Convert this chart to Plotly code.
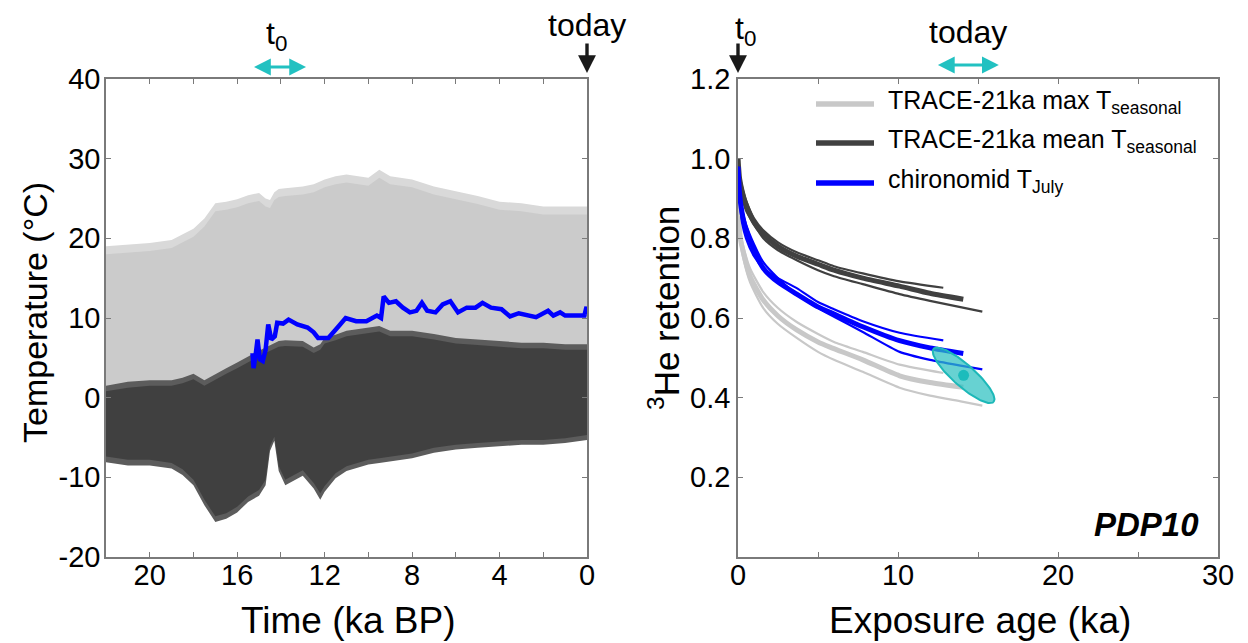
import numpy as np
import plotly.graph_objects as go

# ---------------- Left panel data ----------------
time_ka = [22, 21, 20, 19, 18.5, 18, 17.5, 17, 16.5, 16, 15.5, 15, 14.7, 14.5, 14.3, 14.1, 13.8, 13,
           12.5, 12.2, 12, 11.5, 11, 10, 9.5, 9, 8, 7, 6, 5, 4, 3, 2, 1, 0]
max_T_spike = [19.0, 19.2, 19.4, 19.8, 20.5, 21.2, 22.5, 24.4, 24.6, 24.9, 25.4, 25.7, 25.0, 24.8, 25.8,
               26.2, 26.3, 26.5, 26.8, 27.2, 27.4, 27.8, 28.0, 27.6, 28.6, 27.8, 27.4, 26.5, 25.9, 25.3,
               24.6, 24.4, 24.0, 24.0, 24.0]
max_T_top = [18.0, 18.2, 18.4, 18.8, 19.5, 20.2, 21.5, 23.4, 23.6, 23.9, 24.4, 24.7, 24.0, 23.8, 24.8,
             25.2, 25.3, 25.5, 25.8, 26.2, 26.4, 26.8, 27.0, 26.6, 27.6, 26.8, 26.4, 25.5, 24.9, 24.3,
             23.6, 23.4, 23.0, 23.0, 23.0]
mean_T_spike_top = [1.5, 2.0, 2.2, 2.2, 2.5, 3.0, 2.2, 3.0, 3.7, 4.4, 5.2, 5.9, 6.3, 6.6, 6.9, 7.1, 7.2,
                    7.1, 6.3, 6.7, 7.5, 7.9, 8.4, 8.8, 9.0, 8.4, 8.4, 8.0, 7.5, 7.3, 7.1, 6.9, 6.9, 6.7, 6.7]
mean_T_top = [0.8, 1.25, 1.5, 1.5, 1.8, 2.3, 1.5, 2.3, 3.0, 3.7, 4.5, 5.2, 5.6, 5.9, 6.2, 6.4, 6.5, 6.4,
              5.6, 6.0, 6.8, 7.2, 7.7, 8.1, 8.3, 7.7, 7.7, 7.3, 6.8, 6.6, 6.4, 6.2, 6.2, 6.0, 6.0]
mean_T_bottom = [-7.4, -7.8, -7.8, -8.2, -9.0, -10.3, -12.8, -14.9, -14.5, -13.7, -12.4, -11.6, -10.3,
                 -6.1, -4.9, -8.6, -10.3, -9.1, -10.7, -12.0, -11.1, -9.5, -8.6, -7.8, -7.6, -7.4, -7.0,
                 -6.3, -5.9, -5.7, -5.5, -5.3, -5.3, -5.1, -4.7]
mean_T_spike_bottom = [-8.1, -8.5, -8.5, -8.9, -9.7, -11.0, -13.5, -15.6, -15.2, -14.4, -13.1, -12.3,
                       -11.0, -6.7, -5.4, -9.2, -11.0, -9.8, -11.4, -12.8, -11.8, -10.1, -9.2, -8.4,
                       -8.2, -8.0, -7.6, -6.9, -6.5, -6.3, -6.1, -5.9, -5.9, -5.7, -5.3]

july_time = [15.3, 15.3, 15.25, 15.15, 15.07, 14.96, 14.83, 14.7, 14.58, 14.44, 14.28, 14.17, 13.9, 13.65,
             13.25, 12.78, 12.5, 12.3, 11.83, 11.35, 11.04, 10.56, 10.09, 9.61, 9.42, 9.3, 9.06, 8.74,
             8.42, 8.1, 7.8, 7.55, 7.31, 6.93, 6.6, 6.25, 5.9, 5.5, 5.1, 4.78, 4.39, 3.91, 3.52, 3.12,
             2.33, 1.78, 1.54, 1.23, 1.0, 0.12, 0.02, 0.0]
july_temp = [5.6, 4.2, 3.7, 5.5, 7.3, 4.8, 4.6, 6.0, 9.2, 7.3, 7.7, 9.4, 9.3, 9.8, 9.2, 8.8, 8.2, 7.5,
             7.5, 9.0, 10.0, 9.6, 9.6, 10.3, 10.0, 12.7, 11.9, 12.1, 11.3, 10.7, 10.9, 11.9, 10.9, 10.7,
             11.7, 12.1, 10.7, 11.3, 11.3, 11.9, 11.3, 11.1, 10.2, 10.6, 10.1, 10.9, 10.3, 10.7, 10.3,
             10.3, 11.4, 10.4]

left_xticks = [22, 20, 18, 16, 14, 12, 10, 8, 6, 4, 2, 0]
left_xlabels = ["", "20", "", "16", "", "12", "", "8", "", "4", "", "0"]
left_yticks = [-20, -10, 0, 10, 20, 30, 40]
left_ylabels = ["-20", "-10", "0", "10", "20", "30", "40"]

# ---------------- Right panel data ----------------
gray_thin_up_t = [0, 0.05, 0.15, 0.33, 0.75, 1.58, 2.5, 3.67, 5, 6, 7.8, 10.1, 12.83]
gray_thin_up_r = [1.0, 0.86, 0.815, 0.78, 0.725, 0.665, 0.625, 0.59, 0.56, 0.54, 0.515, 0.483, 0.462]
gray_thick_t = [0, 0.05, 0.15, 0.33, 0.75, 1.58, 2.5, 3.67, 5, 5.75, 7.8, 10.1, 12, 14.08]
gray_thick_r = [1.0, 0.85, 0.80, 0.765, 0.705, 0.645, 0.605, 0.57, 0.54, 0.527, 0.495, 0.455, 0.438, 0.426]
gray_thin_lo_t = [0, 0.05, 0.15, 0.33, 0.75, 1.58, 2.5, 3.67, 5, 6, 7.8, 10.1, 12, 14, 15.27]
gray_thin_lo_r = [1.0, 0.84, 0.79, 0.75, 0.69, 0.625, 0.585, 0.55, 0.515, 0.495, 0.465, 0.425, 0.405, 0.39, 0.38]

dark_thin_up_t = [0, 0.1, 0.25, 0.5, 1, 1.58, 2.5, 3.67, 5, 6, 7.8, 10.1, 12.83]
dark_thin_up_r = [1.0, 0.96, 0.93, 0.895, 0.85, 0.82, 0.79, 0.765, 0.745, 0.73, 0.712, 0.692, 0.676]
dark_thick_t = [0, 0.1, 0.25, 0.5, 1, 1.58, 2.5, 3.67, 5, 6, 7.8, 10.1, 12, 14.08]
dark_thick_r = [1.0, 0.95, 0.92, 0.885, 0.84, 0.81, 0.78, 0.755, 0.735, 0.72, 0.70, 0.68, 0.662, 0.647]
dark_thin_lo_t = [0, 0.1, 0.25, 0.5, 1, 1.58, 2.5, 3.67, 5, 6, 7.8, 10.1, 12, 15.27]
dark_thin_lo_r = [1.0, 0.94, 0.905, 0.87, 0.835, 0.80, 0.77, 0.745, 0.72, 0.705, 0.685, 0.66, 0.643, 0.616]

blue_thin_up_t = [0, 0.1, 0.25, 0.5, 1, 1.58, 2.5, 3.67, 5, 6, 7.8, 10.1, 12.83]
blue_thin_up_r = [0.98, 0.90, 0.84, 0.80, 0.755, 0.725, 0.70, 0.675, 0.64, 0.622, 0.592, 0.563, 0.544]
blue_thick_t = [0, 0.1, 0.25, 0.44, 1, 1.58, 2.5, 3.67, 5, 6, 7.8, 10.1, 12, 14.08]
blue_thick_r = [0.98, 0.91, 0.865, 0.83, 0.77, 0.725, 0.69, 0.66, 0.628, 0.61, 0.578, 0.543, 0.525, 0.511]
blue_thin_lo_t = [0, 0.1, 0.25, 0.5, 1, 1.58, 2.5, 3.67, 5, 6, 7.8, 10.1, 12, 14, 15.27]
blue_thin_lo_r = [0.98, 0.92, 0.875, 0.835, 0.785, 0.74, 0.70, 0.66, 0.625, 0.603, 0.565, 0.515, 0.495, 0.48, 0.471]

# measured sample: exposure age / retention with error ellipse
sample_age = 14.1
sample_ret = 0.456
ellipse_major = (1.875, -0.0667)   # semi-major axis vector (ka, retention)
ellipse_minor = (0.45, 0.0205)     # semi-minor axis vector (ka, retention)

right_xticks = [0, 5, 10, 15, 20, 25, 30]
right_xlabels = ["0", "", "10", "", "20", "", "30"]
right_yticks = [0.2, 0.4, 0.6, 0.8, 1.0, 1.2]
right_ylabels = ["0.2", "0.4", "0.6", "0.8", "1.0", "1.2"]

# ---------------- Styling ----------------
FONT = "Helvetica, Liberation Sans, Arial, sans-serif"
LIGHT = "#c8c8c8"
DARK = "#404040"
BLUE = "#0000ff"
CYAN = "#22c1c1"
AXC = "#7a7a7a"
OFF = 8                      # page body margin of the browser
W, H = 1248 - OFF, 643 - OFF

def px_y(py):
    return 1 - (py - OFF) / H

def px_x(px):
    return (px - OFF) / W

fig = go.Figure()

def band(x, lo, hi, color, xa="x", ya="y"):
    fig.add_trace(go.Scatter(x=x, y=lo, mode="lines", line=dict(width=0, color=color),
                             showlegend=False, hoverinfo="skip", xaxis=xa, yaxis=ya))
    fig.add_trace(go.Scatter(x=x, y=hi, mode="lines", line=dict(width=0, color=color),
                             fill="tonexty", fillcolor=color, showlegend=False,
                             hoverinfo="skip", xaxis=xa, yaxis=ya))

band(time_ka, mean_T_top, max_T_spike, "#d9d9d9")
band(time_ka, mean_T_top, max_T_top, "#cbcbcb")
band(time_ka, mean_T_spike_bottom, mean_T_spike_top, "#5c5c5c")
band(time_ka, mean_T_bottom, mean_T_top, DARK)

fig.add_trace(go.Scatter(x=july_time, y=july_temp, mode="lines",
                         line=dict(color=BLUE, width=4.5), showlegend=False,
                         xaxis="x", yaxis="y"))

# right panel curves
def curve(t, r, color, width):
    fig.add_trace(go.Scatter(x=t, y=r, mode="lines",
                             line=dict(color=color, width=width, shape="spline", smoothing=0.6),
                             showlegend=False, xaxis="x2", yaxis="y2"))

curve(gray_thin_up_t, gray_thin_up_r, LIGHT, 2.2)
curve(gray_thin_lo_t, gray_thin_lo_r, LIGHT, 2.2)
curve(gray_thick_t, gray_thick_r, LIGHT, 5)
curve(dark_thin_up_t, dark_thin_up_r, DARK, 2.2)
curve(dark_thin_lo_t, dark_thin_lo_r, DARK, 2.2)
curve(dark_thick_t, dark_thick_r, DARK, 5)
curve(blue_thin_up_t, blue_thin_up_r, BLUE, 2.2)
curve(blue_thin_lo_t, blue_thin_lo_r, BLUE, 2.2)
curve(blue_thick_t, blue_thick_r, BLUE, 5)

theta = np.linspace(0, 2 * np.pi, 121)
ex = sample_age + ellipse_major[0] * np.cos(theta) + ellipse_minor[0] * np.sin(theta)
ey = sample_ret + ellipse_major[1] * np.cos(theta) + ellipse_minor[1] * np.sin(theta)
fig.add_trace(go.Scatter(x=ex, y=ey, mode="lines", fill="toself",
                         fillcolor="rgba(45,192,192,0.72)",
                         line=dict(color="#1db8b8", width=2), showlegend=False,
                         xaxis="x2", yaxis="y2"))
fig.add_trace(go.Scatter(x=[sample_age], y=[sample_ret], mode="markers",
                         marker=dict(color="#1cbcbc", size=11), showlegend=False,
                         xaxis="x2", yaxis="y2"))

ydom = [px_y(557), px_y(79)]
axis_common = dict(showline=True, linecolor=AXC, linewidth=1.5, mirror="ticks",
                   ticks="inside", ticklen=5, tickcolor=AXC, tickwidth=1.2,
                   showgrid=False, zeroline=False,
                   tickfont=dict(family=FONT, size=29, color="black"),
                   automargin=False)

fig.update_layout(
    width=W, height=H,
    margin=dict(l=0, r=0, t=0, b=0),
    paper_bgcolor="white", plot_bgcolor="white",
    showlegend=False,
    xaxis=dict(domain=[px_x(106), px_x(587)], range=[22, 0], tickmode="array",
               tickvals=left_xticks, ticktext=left_xlabels, anchor="y",
               ticklabelstandoff=-9, **axis_common),
    yaxis=dict(domain=ydom, range=[-20, 40], tickmode="array",
               tickvals=left_yticks, ticktext=left_ylabels, anchor="x",
               ticklabelstandoff=-2, **axis_common),
    xaxis2=dict(domain=[px_x(738), px_x(1218)], range=[0, 30], tickmode="array",
                tickvals=right_xticks, ticktext=right_xlabels, anchor="y2",
                ticklabelstandoff=-9, **axis_common),
    yaxis2=dict(domain=ydom, range=[0, 1.2], tickmode="array",
                tickvals=right_yticks, ticktext=right_ylabels, anchor="x2",
                ticklabelstandoff=0, **axis_common),
)

ann = []
def text(x, y, s, size, xref="paper", yref="paper", angle=0, xanchor="center", yanchor="middle"):
    ann.append(dict(x=x, y=y, xref=xref, yref=yref, text=s, showarrow=False,
                    font=dict(family=FONT, size=size, color="black"),
                    textangle=angle, xanchor=xanchor, yanchor=yanchor))

# axis titles
text(px_x(35), px_y(313), "Temperature (°C)", 34, angle=-90)
text(px_x(348), px_y(620), "Time (ka BP)", 37)
text(px_x(980), px_y(620), "Exposure age (ka)", 37)
text(px_x(664), px_y(308), "<sup>3</sup>He retention", 35, angle=-90)

# top labels
text(0, px_y(25), "today", 32, xref="x")
text(14.2, px_y(35), "t<sub>0</sub>", 32, xref="x")
text(0.45, px_y(30), "t<sub>0</sub>", 32, xref="x2")
text(14.4, px_y(32), "today", 32, xref="x2")

# PDP10
text(px_x(1201), px_y(524), "<b><i>PDP10</i></b>", 33, xanchor="right")

# arrows
def down_arrow(x, xref):
    ann.append(dict(x=x, y=px_y(73), xref=xref, yref="paper", ax=0, ay=-31,
                    axref="pixel", ayref="pixel", showarrow=True, text="",
                    arrowhead=2, arrowsize=1.05, arrowwidth=3.4, arrowcolor="#1a1a1a"))

def span_arrow(x0, x1, py, xref):
    ann.append(dict(x=x1, y=px_y(py), xref=xref, yref="paper", ax=x0, ay=0,
                    axref=xref, ayref="pixel", showarrow=True, text="",
                    arrowhead=2, startarrowhead=2, arrowside="end+start",
                    arrowsize=1.05, startarrowsize=1.05, arrowwidth=3.2, arrowcolor=CYAN))

down_arrow(0, "x")
down_arrow(0, "x2")
span_arrow(15.3, 12.85, 67, "x")
span_arrow(12.4, 16.3, 65, "x2")

# legend (manual)
legend_items = [("TRACE-21ka max T<sub>seasonal</sub>", LIGHT, 104),
                ("TRACE-21ka mean T<sub>seasonal</sub>", DARK, 143),
                ("chironomid T<sub>July</sub>", BLUE, 183)]
shapes = []
for label, col, py in legend_items:
    shapes.append(dict(type="line", xref="paper", yref="paper",
                       x0=px_x(816), x1=px_x(874), y0=px_y(py), y1=px_y(py),
                       line=dict(color=col, width=5.5)))
    text(px_x(886), px_y(py - 2), label, 25, xanchor="left")

fig.update_layout(annotations=ann, shapes=shapes)
fig.write_html("out.html")
